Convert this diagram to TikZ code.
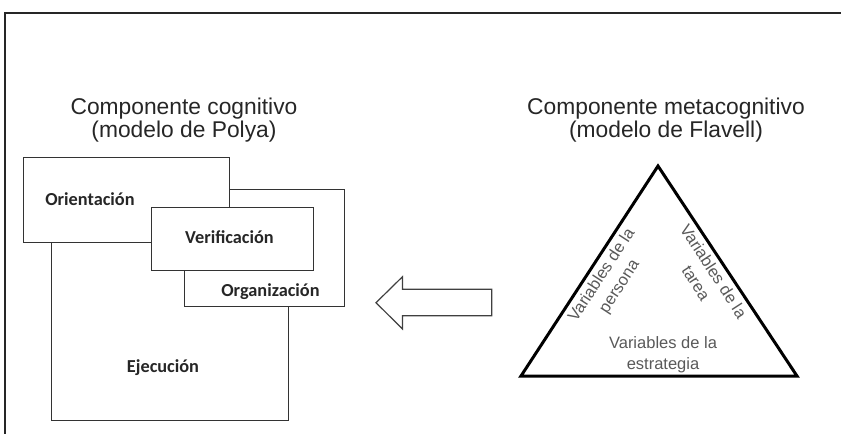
\documentclass[tikz,border=0pt]{standalone}
\usepackage{fontspec}
\setmainfont{Liberation Sans}
\newfontfamily\lblfont{Carlito}
\begin{document}
\begin{tikzpicture}[x=1pt,y=-1pt,
  frame/.style={line width=1.3pt,black!85},
  boxshape/.style={draw=black!80,line width=1pt,fill=white},
  boxlabel/.style={anchor=base,inner sep=0pt,font=\lblfont\bfseries\fontsize{18.3}{21}\selectfont,text=black!85},
  title/.style={anchor=base,inner sep=0pt,font=\fontsize{22.8}{23}\selectfont,text=black!85},
  tritext/.style={align=center,inner sep=0pt,font=\fontsize{16.5}{21}\selectfont,text=black!65},
  tri/.style={draw=black,line width=3pt,line join=miter},
  hollowarrow/.style={draw=black!75,line width=1.2pt,fill=white,line join=miter}]
\useasboundingbox (0,0) rectangle (841,434);
% outer frame lines
\coordinate (fTL) at (5,13);
\coordinate (fTR) at (841,13);
\coordinate (fBL) at (5,434);
\draw[frame] (fTR) -- (fTL) -- (fBL);
% titles
\node[title] (t1a) at (184,114) {Componente cognitivo};
\node[title] (t1b) at (184,137) {(modelo de Polya)};
\node[title] (t2a) at (666,114) {Componente metacognitivo};
\node[title] (t2b) at (666,137) {(modelo de Flavell)};
% Polya boxes
\draw[boxshape] (51,220) rectangle (288,420);
\draw[boxshape] (184,189) rectangle (344,306);
\draw[boxshape] (23,157) rectangle (229,242);
\draw[boxshape] (151,207) rectangle (313,270);
\node[boxlabel] (ori) at (90,205.5) {Orientación};
\node[boxlabel] (ver) at (229.5,243.3) {Verificación};
\node[boxlabel] (org) at (270.5,296.5) {Organización};
\node[boxlabel] (eje) at (163,372) {Ejecución};
% hollow arrow
\draw[hollowarrow] (376,302.7) -- (402.5,276.7) -- (402.5,289.3) -- (491.7,289.3)
  -- (491.7,315.7) -- (402.5,315.7) -- (402.5,329) -- cycle;
% triangle
\coordinate (apex) at (658,166);
\coordinate (bl) at (521,376);
\coordinate (br) at (797,376);
\draw[tri] (apex) -- (bl) -- (br) -- cycle;
\node[tritext,rotate=57] (vp) at (611,281) {Variables de la\\persona};
\node[tritext,rotate=-57] (vt) at (705,277) {Variables de la\\tarea};
\node[tritext] (ve) at (663,355) {Variables de la\\estrategia};
\end{tikzpicture}
\end{document}
